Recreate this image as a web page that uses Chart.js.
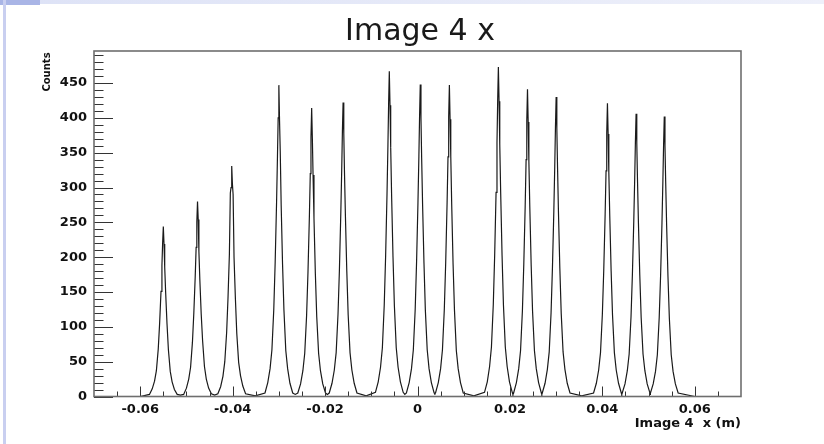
<!DOCTYPE html>
<html><head><meta charset="utf-8">
<script src="https://cdn.jsdelivr.net/npm/chart.js@4.4.1/dist/chart.umd.min.js"></script>
<style>
html,body{margin:0;padding:0;background:#fff;}
#wrap{position:relative;width:824px;height:444px;overflow:hidden;background:#fff;}
#c{position:absolute;left:0;top:0;}
.txt{position:absolute;color:#111;white-space:pre;line-height:1;}
#topbar{position:absolute;left:0;top:0;width:824px;height:4px;background:linear-gradient(90deg,#dde2f6,#eef0fa);}
#topblock{position:absolute;left:0;top:0;width:40px;height:5px;background:#a9b5e6;}
#leftline{position:absolute;left:3px;top:0;width:3px;height:444px;background:#c9cff0;}
#title{left:270px;top:15px;width:300px;text-align:center;font-family:"DejaVu Sans";font-size:30px;color:#1a1a1a;}
#ytitle{left:27px;top:66px;width:40px;height:12px;text-align:center;font-family:"DejaVu Sans";font-weight:bold;font-size:10px;line-height:12px;transform:rotate(-90deg);}
#xtitle{right:83px;top:416px;text-align:right;font-family:"DejaVu Sans";font-weight:bold;font-size:13px;}
</style></head><body>
<div id="wrap">
<div id="topbar"></div><div id="topblock"></div><div id="leftline"></div>
<canvas id="c" width="824" height="444"></canvas>
<div class="txt" id="title">Image 4 x</div>
<div class="txt" id="ytitle">Counts</div>
<div class="txt" id="xtitle">Image 4  x (m)</div>
</div>
<script>
// ---- data ----
const peakCenters = [-0.0550,-0.0476,-0.0402,-0.0300,-0.0229,-0.0161,-0.0061,0.0006,0.0069,0.0175,0.0238,0.0300,0.0411,0.0473,0.0534];
const binOffsets = [-0.0030,-0.0024,-0.0019,-0.0015,-0.0011,-0.0008,-0.0005,-0.0003,-0.00015,0,0.00015,0.0003,0.0005,0.0008,0.0011,0.0015,0.0019,0.0024,0.0030];
const peakCounts = [
 [3,11,22,37,68,105,151,188,220,244,219,186,150,104,67,36,21,10,3],
 [3,12,25,42,78,120,172,214,250,280,254,208,168,118,80,43,25,12,4],
 [4,14,29,50,92,142,205,292,300,331,305,290,200,140,90,49,30,15,4],
 [5,20,40,67,125,192,277,345,400,447,395,352,275,190,124,66,40,19,5],
 [5,18,37,62,116,178,257,320,372,414,370,318,256,176,114,62,37,18,5],
 [5,19,38,63,118,181,262,325,380,422,378,322,260,180,117,63,38,19,5],
 [6,21,42,70,131,201,290,360,420,467,418,358,288,200,130,70,42,21,6],
 [5,20,40,67,125,193,278,345,402,448,400,342,276,192,124,67,40,20,5],
 [5,20,40,67,125,192,277,344,402,447,398,345,276,190,124,66,40,20,5],
 [6,21,43,71,132,203,293,364,425,473,424,362,292,202,131,71,43,21,6],
 [5,20,40,66,123,190,273,340,396,441,394,338,272,188,122,66,40,20,5],
 [5,19,39,64,120,185,266,331,386,430,385,330,265,184,119,64,39,19,5],
 [5,19,38,63,118,181,261,324,378,421,377,322,260,180,117,63,38,19,5],
 [5,18,37,61,114,175,252,313,365,406,364,312,251,174,113,61,37,18,5],
 [5,18,36,60,113,173,249,310,361,402,360,309,248,172,112,60,36,18,5]
];
const valleyX = [-0.0700,-0.0600,-0.0513,-0.0439,-0.0351,-0.02645,-0.0195,-0.0111,-0.00275,0.00375,0.0122,0.02065,0.0269,0.03555,0.0442,0.05035,0.0600,0.0700];
const valleyY = [0,0,2,2,1,3,3,1,3,4,1,3,3,1,3,3,0,0];
const xTickValues = [-0.06,-0.04,-0.02,0,0.02,0.04,0.06];
const xTickLabels = ['-0.06','-0.04','-0.02','0','0.02','0.04','0.06'];
const yTickValues = [0,50,100,150,200,250,300,350,400,450];
const yTickLabels = ['0','50','100','150','200','250','300','350','400','450'];

const points = [];
peakCenters.forEach((c,i)=>binOffsets.forEach((o,j)=>points.push({x:c+o,y:peakCounts[i][j]})));
valleyX.forEach((vx,i)=>points.push({x:vx,y:valleyY[i]}));
points.sort((a,b)=>a.x-b.x);

const frameTicks = {
  id:'frameTicks',
  afterDatasetsDraw(chart){
    const {ctx, chartArea:a, scales:{x,y}} = chart;
    ctx.save();
    ctx.strokeStyle='#333'; ctx.lineWidth=1;
    ctx.beginPath();
    for(let v=0; v<=490; v+=10){
      const py=Math.round(y.getPixelForValue(v))+0.5;
      const len=(v%50===0)?19:9.5;
      ctx.moveTo(a.left,py); ctx.lineTo(a.left+len,py);
    }
    for(let k=-13;k<=13;k++){
      const px=Math.round(x.getPixelForValue(k*0.005))+0.5;
      const len=(k%4===0)?10:5;
      ctx.moveTo(px,a.bottom); ctx.lineTo(px,a.bottom-len);
    }
    ctx.stroke();
    ctx.strokeStyle='#6e6e6e'; ctx.lineWidth=1.6;
    ctx.strokeRect(a.left,a.top,a.right-a.left,a.bottom-a.top);
    ctx.restore();
  }
};

new Chart(document.getElementById('c'),{
  type:'line',
  data:{datasets:[{data:points,borderColor:'#1a1a1a',borderWidth:1.2,pointRadius:0,tension:0,fill:false}]},
  options:{
    responsive:false,animation:false,devicePixelRatio:1,
    layout:{padding:{left:0,right:83,top:51,bottom:0}},
    plugins:{legend:{display:false},tooltip:{enabled:false},title:{display:false}},
    scales:{
      x:{type:'linear',min:-0.07,max:0.07,
        grid:{display:false,drawTicks:false},border:{display:false},
        afterBuildTicks:s=>{s.ticks=xTickValues.map(v=>({value:v}));},
        afterFit:s=>{s.height=47.5;},
        ticks:{padding:5,maxRotation:0,autoSkip:false,color:'#111',font:{family:'DejaVu Sans',weight:'bold',size:13},
          callback:(v)=>{const i=xTickValues.findIndex(t=>Math.abs(t-v)<1e-9);return i>=0?xTickLabels[i]:'';}}},
      y:{type:'linear',min:0,max:496,
        grid:{display:false,drawTicks:false},border:{display:false},
        afterBuildTicks:s=>{s.ticks=yTickValues.map(v=>({value:v}));},
        afterFit:s=>{s.width=94;},
        ticks:{padding:7,autoSkip:false,color:'#111',font:{family:'DejaVu Sans',weight:'bold',size:13},
          callback:(v)=>{const i=yTickValues.indexOf(v);return i>=0?yTickLabels[i]:'';}}}
    }
  },
  plugins:[frameTicks]
});
</script>
</body></html>
